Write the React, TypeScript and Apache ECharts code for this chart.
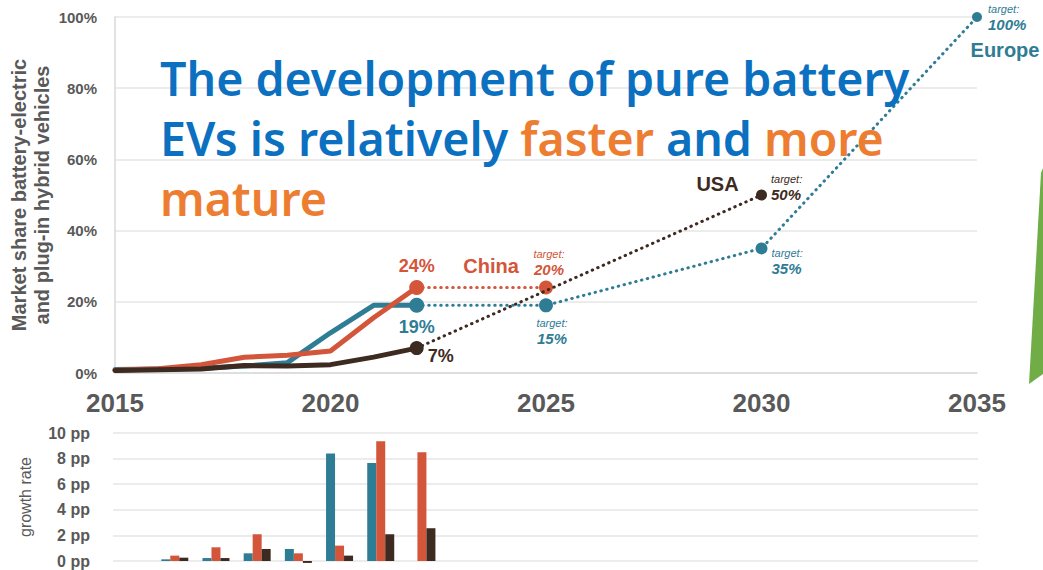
import React, { useEffect, useRef } from "react";
import * as echarts from "echarts";

// ---------- data ----------
const years = [2015, 2016, 2017, 2018, 2019, 2020, 2021, 2022];
const europeShare = [1.0, 1.1, 1.35, 1.95, 2.9, 11.3, 19.0, 19.0];
const chinaShare = [0.8, 1.2, 2.3, 4.4, 5.0, 6.2, 15.5, 24.0];
const usaShare = [0.7, 0.9, 1.15, 2.1, 1.95, 2.35, 4.45, 7.0];

const europeTargetYears = [2022, 2025, 2030, 2035];
const europeTargetValues = [19, 19, 35, 100];
const europeTargetLabels = ["19%", "15%", "35%", "100%"];
const chinaTargetYears = [2022, 2025];
const chinaTargetValues = [24, 24];
const chinaTargetLabels = ["24%", "20%"];
const usaTargetYears = [2022, 2030];
const usaTargetValues = [7, 50];
const usaTargetLabels = ["7%", "50%"];

const growthCategories = [
  "2015", "2016", "2017", "2018", "2019", "2020", "2021", "2022", "2023", "2024", "2025",
  "2026", "2027", "2028", "2029", "2030", "2031", "2032", "2033", "2034", "2035",
];
const europeGrowth = [null, 0.13, 0.23, 0.6, 0.94, 8.4, 7.65, null];
const chinaGrowth = [null, 0.42, 1.07, 2.09, 0.6, 1.2, 9.35, 8.5];
const usaGrowth = [null, 0.26, 0.23, 0.94, -0.15, 0.42, 2.09, 2.56];

const titleLines = [
  [["The development of pure battery", "b"]],
  [["EVs is relatively ", "b"], ["faster", "o"], [" and ", "b"], ["more", "o"]],
  [["mature", "o"]],
];

// ---------- styles ----------
const TEAL = "#2f7c95";
const ORANGE = "#d3553a";
const BROWN = "#3d2a21";
const GRAY = "#595959";
const BLUE = "#0b70c0";
const TITLE_ORANGE = "#ed7d31";
const FONT = "'Liberation Sans', Arial, sans-serif";

const targetRich = (color: string) => ({
  t: { color, fontSize: 11, fontStyle: "italic", fontFamily: FONT, lineHeight: 14 },
  v: { color, fontSize: 15, fontStyle: "italic", fontWeight: "bold", fontFamily: FONT, lineHeight: 17 },
});

const bigLabel = (color: string, text: string, extra: any) => ({
  show: true,
  formatter: text,
  color,
  fontSize: 18,
  fontWeight: "bold",
  fontFamily: FONT,
  ...extra,
});

const targetLabel = (color: string, text: string, extra: any) => ({
  show: true,
  formatter: `{t|target:}\n{v|${text}}`,
  rich: targetRich(color),
  align: "left",
  ...extra,
});

const nameLabel = (color: string, text: string, offset: number[]) => ({
  show: true,
  position: "inside",
  formatter: text,
  color,
  fontSize: 20,
  fontWeight: "bold",
  fontFamily: FONT,
  offset,
});

export default function App() {
  const ref = useRef<HTMLDivElement>(null);

  useEffect(() => {
    if (!ref.current) return;
    const chart = echarts.init(ref.current, undefined, { renderer: "svg" });

    const actual = (name: string, vals: number[], color: string, z: number) => ({
      type: "line",
      name,
      xAxisIndex: 0,
      yAxisIndex: 0,
      data: years.map((y, i) => [y, vals[i]]),
      symbol: "none",
      lineStyle: { width: 5, color, join: "round", cap: "round" },
      z,
    });

    const dotted = { width: 3, type: [0.5, 5.5], cap: "round" };
    const hiddenMark = { symbol: "circle", symbolSize: 0, itemStyle: { color: "transparent" } };

    const europeProj = {
      type: "line",
      name: "Europe target",
      xAxisIndex: 0,
      yAxisIndex: 0,
      z: 5,
      symbol: "circle",
      itemStyle: { color: TEAL },
      lineStyle: { ...dotted, color: TEAL },
      data: europeTargetYears.map((y, i) => {
        const v = [y, europeTargetValues[i]];
        if (i === 0)
          return { value: v, symbolSize: 15, label: bigLabel(TEAL, europeTargetLabels[i], { position: "bottom", distance: 5 }) };
        if (i === 1)
          return { value: v, symbolSize: 14, label: targetLabel(TEAL, europeTargetLabels[i], { position: "bottom", distance: 4, align: "center", offset: [6, 0] }) };
        if (i === 2)
          return { value: v, symbolSize: 12, label: targetLabel(TEAL, europeTargetLabels[i], { position: "right", distance: 4, offset: [0, 13] }) };
        return { value: v, symbolSize: 10, label: targetLabel(TEAL, europeTargetLabels[i], { position: "right", distance: 6, offset: [0, 0] }) };
      }),
      markPoint: { ...hiddenMark, data: [{ coord: [2035, 100], label: nameLabel(TEAL, "Europe", [28, 33]) }] },
    };

    const chinaProj = {
      type: "line",
      name: "China target",
      xAxisIndex: 0,
      yAxisIndex: 0,
      z: 6,
      symbol: "circle",
      itemStyle: { color: ORANGE },
      lineStyle: { ...dotted, color: ORANGE },
      data: chinaTargetYears.map((y, i) => {
        const v = [y, chinaTargetValues[i]];
        if (i === 0)
          return { value: v, symbolSize: 15, label: bigLabel(ORANGE, chinaTargetLabels[i], { position: "top", distance: 5 }) };
        return { value: v, symbolSize: 14, label: targetLabel(ORANGE, chinaTargetLabels[i], { position: "top", distance: 3, align: "center", offset: [3, 0] }) };
      }),
      markPoint: { ...hiddenMark, data: [{ coord: [2025, 24], label: nameLabel(ORANGE, "China", [-55, -22]) }] },
    };

    const usaProj = {
      type: "line",
      name: "USA target",
      xAxisIndex: 0,
      yAxisIndex: 0,
      z: 7,
      symbol: "circle",
      itemStyle: { color: BROWN },
      lineStyle: { ...dotted, color: BROWN },
      data: usaTargetYears.map((y, i) => {
        const v = [y, usaTargetValues[i]];
        if (i === 0)
          return { value: v, symbolSize: 14, label: bigLabel(BROWN, usaTargetLabels[i], { position: "right", distance: 4, offset: [0, 8] }) };
        return { value: v, symbolSize: 11, label: targetLabel(BROWN, usaTargetLabels[i], { position: "right", distance: 4, offset: [0, -8] }) };
      }),
      markPoint: { ...hiddenMark, data: [{ coord: [2030, 50], label: nameLabel(BROWN, "USA", [-44, -11]) }] },
    };

    const bar = (name: string, vals: (number | null)[], color: string) => ({
      type: "bar",
      name,
      xAxisIndex: 1,
      yAxisIndex: 1,
      data: vals,
      barWidth: 9,
      barGap: "0%",
      clip: false,
      itemStyle: { color },
    });

    const TITLE_FONT = "'Noto Sans', 'Open Sans', sans-serif";
    const titleRich = {
      b: { fill: BLUE, color: BLUE, fontSize: 46.5, lineHeight: 40, fontWeight: 600, fontFamily: TITLE_FONT },
      o: { fill: TITLE_ORANGE, color: TITLE_ORANGE, fontSize: 46.5, lineHeight: 40, fontWeight: 600, fontFamily: TITLE_FONT },
    };
    const titleY = [78, 138, 198];

    const option: any = {
      animation: false,
      backgroundColor: "#ffffff",
      textStyle: { fontFamily: FONT },
      grid: [
        { left: 115, right: 66, top: 17, height: 356, outerBoundsMode: "none", containLabel: false },
        { left: 113, right: 65, top: 433, height: 128, outerBoundsMode: "none", containLabel: false },
      ],
      xAxis: [
        {
          type: "value",
          gridIndex: 0,
          min: 2015,
          max: 2035,
          interval: 5,
          axisLine: { show: true, lineStyle: { color: "#d9d9d9", width: 1.5 } },
          axisTick: { show: false },
          splitLine: { show: false },
          axisLabel: { color: GRAY, fontSize: 26, fontWeight: "bold", margin: 17, formatter: (v: number) => String(v) },
        },
        {
          type: "category",
          gridIndex: 1,
          data: growthCategories,
          axisLine: { show: false },
          axisTick: { show: false },
          axisLabel: { show: false },
        },
      ],
      yAxis: [
        {
          type: "value",
          gridIndex: 0,
          min: 0,
          max: 100,
          interval: 20,
          name: "Market share battery-electric\nand plug-in hybrid vehicles",
          nameLocation: "middle",
          nameGap: 62,
          nameMoveOverlap: false,
          nameTextStyle: { color: GRAY, fontSize: 20, fontWeight: "bold", lineHeight: 23, fontFamily: FONT },
          axisLine: { show: true, lineStyle: { color: "#d9d9d9", width: 1.5 } },
          axisTick: { show: false },
          splitLine: { show: true, lineStyle: { color: "#e6e6e6", width: 1.5 } },
          axisLabel: { color: GRAY, fontSize: 15, fontWeight: "bold", margin: 18, formatter: "{value}%" },
        },
        {
          type: "value",
          gridIndex: 1,
          min: 0,
          max: 10,
          interval: 2,
          name: "growth rate",
          nameLocation: "middle",
          nameGap: 80,
          nameMoveOverlap: false,
          nameTextStyle: { color: GRAY, fontSize: 16, fontFamily: FONT },
          axisLine: { show: false },
          axisTick: { show: false },
          splitLine: { show: true, lineStyle: { color: "#e6e6e6", width: 1.5 } },
          axisLabel: { color: GRAY, fontSize: 16, fontWeight: "bold", margin: 23, formatter: "{value} pp" },
        },
      ],
      series: [
        actual("Europe", europeShare, TEAL, 2),
        actual("China", chinaShare, ORANGE, 3),
        actual("USA", usaShare, BROWN, 4),
        europeProj,
        chinaProj,
        usaProj,
        bar("Europe growth", europeGrowth, TEAL),
        bar("China growth", chinaGrowth, ORANGE),
        bar("USA growth", usaGrowth, BROWN),
      ],
      graphic: [
        ...titleLines.map((line, i) => ({
          type: "text",
          x: 160,
          y: titleY[i],
          z: 100,
          style: {
            text: line.map(([t, k]) => `{${k}|${t}}`).join(""),
            rich: titleRich,
            verticalAlign: "middle",
            align: "left",
          },
        })),
        {
          type: "polygon",
          z: 100,
          shape: { points: [[1041, 173], [1043, 168], [1043, 374], [1029, 384]] },
          style: { fill: "#70ad47" },
        },
      ],
    };

    chart.setOption(option);
    return () => chart.dispose();
  }, []);

  return (
    <div
      ref={ref}
      style={{ position: "fixed", left: 0, top: 0, width: 1043, height: 570, background: "#fff" }}
    />
  );
}
